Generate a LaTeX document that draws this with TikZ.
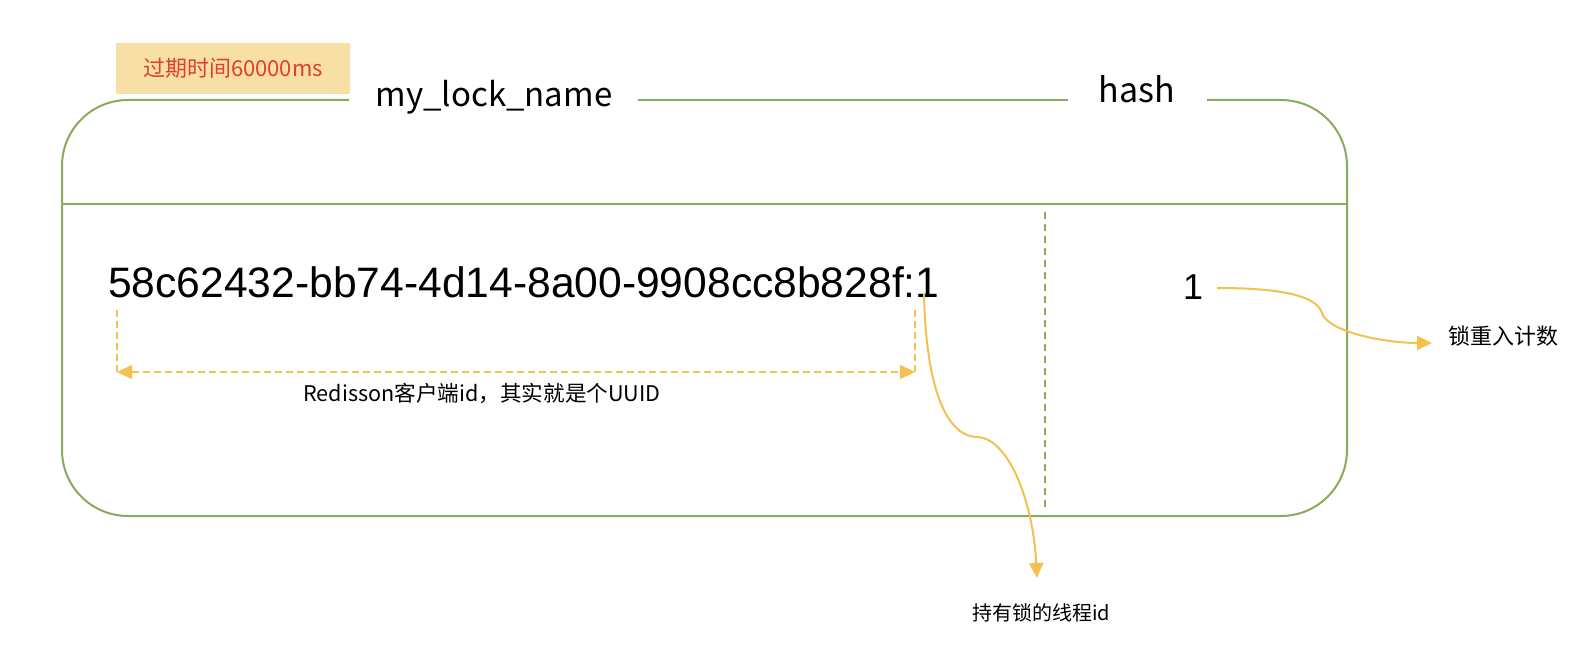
\documentclass[tikz,border=0pt]{standalone}
\usepackage{fontspec}
\newfontfamily\cjk{Noto Sans CJK SC}
\newfontfamily\arialf{Liberation Sans}
\usetikzlibrary{arrows.meta}
\definecolor{lgreen}{RGB}{138,170,92}
\definecolor{arrowc}{RGB}{242,193,78}
\definecolor{boxfill}{RGB}{248,223,165}
\definecolor{redtext}{RGB}{226,62,45}
\begin{document}
\begin{tikzpicture}[x=1pt,y=-1pt,
  frame/.style={draw=lgreen,line width=2pt},
  gdash/.style={draw=lgreen,line width=2pt,dash pattern=on 7pt off 5pt},
  odash/.style={draw=arrowc,line width=2pt,dash pattern=on 7pt off 4pt},
  tipo/.style={-{Triangle[length=15pt,width=14pt]}},
  curvearrow/.style={draw=arrowc,line width=2pt,tipo},
  lbl/.style={font=\cjk\fontsize{20}{24}\selectfont,inner sep=0pt},
  title/.style={inner sep=0pt,anchor=base}]
\useasboundingbox (0,0) rectangle (1596,658);

% frame outline with gaps for labels
\draw[frame,rounded corners=66pt] (349,100) -- (62,100) -- (62,516) -- (1347,516) -- (1347,100) -- (1207,100);
\draw[frame] (638,100) -- (1068,100);
\draw[frame] (62,204) -- (1347,204);
\draw[gdash] (1045,212) -- (1045,512);

% titles
\node[fill=boxfill,minimum width=234pt,minimum height=51pt,inner sep=0pt,
      text=redtext,font=\cjk\fontsize{22}{26}\selectfont] (ttl) at (233,68.5) {过期时间60000ms};
\node[title,font=\cjk\fontsize{33}{40}\selectfont] (lockname) at (494,107) {my\_lock\_name};
\node[title,font=\cjk\fontsize{34}{40}\selectfont] (hash) at (1137,103) {hash};

% field and value
\node[anchor=base west,inner sep=0pt,font=\arialf\fontsize{42.6}{50}\selectfont] (uuid) at (108,297) {58c62432-bb74-4d14-8a00-9908cc8b828f:1};
\node[anchor=base,inner sep=0pt,font=\arialf\fontsize{36}{42}\selectfont] (count) at (1193,299) {1};

% bracket under client id
\coordinate (bl) at (117,310);
\coordinate (br) at (915,310);
\coordinate (bla) at (117,372);
\coordinate (bra) at (915,372);
\draw[odash] (bl) -- (bla);
\draw[odash] (br) -- (bra);
\draw[odash,{Triangle[length=15pt,width=14pt]}-{Triangle[length=15pt,width=14pt]}] (bla) -- (bra);
\node[lbl,font=\cjk\fontsize{21.6}{26}\selectfont] (clientlbl) at (482,393) {Redisson客户端id，其实就是个UUID};

% labels
\node[lbl,anchor=west] (threadlbl) at (972,613) {持有锁的线程id};
\node[lbl,anchor=west,font=\cjk\fontsize{22}{26}\selectfont] (countlbl) at (1448,336) {锁重入计数};

% curved arrows
\coordinate (ts) at (924,294);
\coordinate (tm) at (977,437);
\coordinate (te) at (1037,578);
\draw[curvearrow] (ts) .. controls (926,385) and (945,436) .. (tm)
   .. controls (1008,438) and (1033,500) .. (te);
\coordinate (cs) at (1217,288);
\coordinate (cm) at (1322,313);
\coordinate (ce) at (1432,343);
\draw[curvearrow] (cs) .. controls (1290,288) and (1317,298) .. (cm)
   .. controls (1328,332) and (1385,343) .. (ce);
\end{tikzpicture}
\end{document}
